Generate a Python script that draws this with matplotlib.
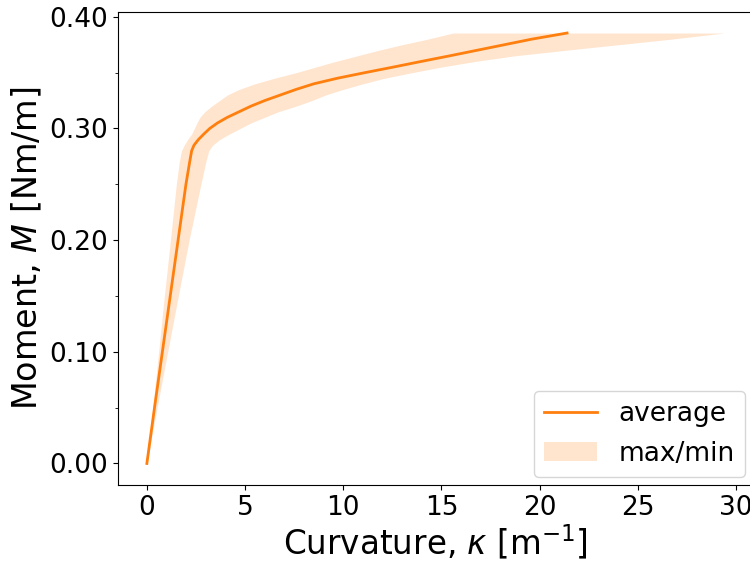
import matplotlib
matplotlib.use('Agg')
import matplotlib.pyplot as plt
from matplotlib.ticker import MultipleLocator, FormatStrFormatter

# moment levels [Nm/m] and curvature [1/m] read at each level
moment = [0, 0.05, 0.10, 0.15, 0.20, 0.25, 0.27, 0.28, 0.285, 0.29,
          0.295, 0.30, 0.305, 0.31, 0.315, 0.32, 0.325, 0.33, 0.335,
          0.34, 0.345, 0.35, 0.355, 0.36, 0.365, 0.37, 0.375, 0.38, 0.3855]
kappa_avg = [0, 0.39, 0.79, 1.19, 1.59, 1.99, 2.18, 2.28, 2.40, 2.62,
             2.9, 3.2, 3.6, 4.1, 4.7, 5.3, 6.0, 6.8, 7.6,
             8.5, 9.7, 11.1, 12.55, 13.96, 15.4, 16.8, 18.2, 19.6, 21.4]
kappa_min = [0, 0.3, 0.6, 0.89, 1.2, 1.5, 1.65, 1.76, 1.9, 2.07,
             2.28, 2.42, 2.55, 2.7, 2.95, 3.3, 3.7, 4.1, 4.7,
             5.5, 6.5, 7.6, 8.6, 9.6, 10.7, 11.8, 13.0, 14.3, 15.6]
kappa_max = [0, 0.52, 1.06, 1.6, 2.15, 2.75, 3.0, 3.15, 3.35, 3.7,
             4.2, 4.75, 5.3, 6.0, 6.7, 7.6, 8.4, 9.1, 10.0,
             11.0, 12.1, 13.5, 15.0, 16.7, 18.7, 21.3, 24.0, 26.7, 29.4]

fs = 19

fig = plt.figure(figsize=(7.5, 5.61), dpi=100)
ax = fig.add_axes([118 / 750, 76 / 561, 635 / 750, 473.5 / 561])

ax.plot(kappa_avg, moment, color='tab:orange', lw=2, label='average')
ax.fill_betweenx(moment, kappa_min, kappa_max, color='tab:orange',
                 alpha=0.2, lw=0, label='max/min')

ax.set_xlabel(r'Curvature, $\kappa$ [m$^{-1}$]', fontsize=23.5, labelpad=1)
ax.set_ylabel(r'Moment, $M$ [Nm/m]', fontsize=24)
ax.yaxis.set_major_locator(MultipleLocator(0.1))
ax.yaxis.set_minor_locator(MultipleLocator(0.05))
ax.yaxis.set_major_formatter(FormatStrFormatter('%.2f'))
ax.tick_params(labelsize=fs)

ax.legend(loc='lower right', fontsize=fs, borderaxespad=0.3)

fig.savefig('out.png', dpi=100)
